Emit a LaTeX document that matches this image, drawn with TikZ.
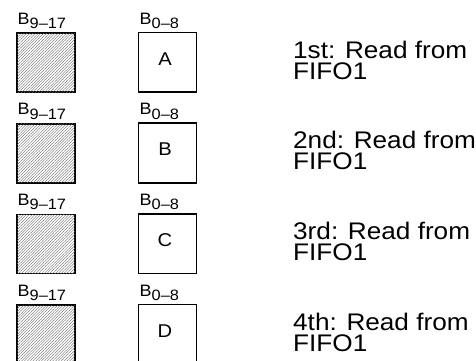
\documentclass[tikz,border=0pt]{standalone}
\usepackage{fontspec}
\setmainfont{Liberation Sans}
\usetikzlibrary{patterns.meta}
\newcommand{\hs}[1]{\scalebox{1.09}[1]{#1}}
\newcommand{\blabel}[1]{\hs{\fontsize{16.5}{18}\selectfont B\raisebox{-4.3pt}{\fontsize{15}{16}\selectfont #1}}}
\tikzset{
  hatchbox/.style={draw=black, line width=1.7pt, fill=white,
    postaction={pattern={Lines[angle=45,distance=2pt,line width=0.35pt]}, pattern color=black!60}},
  plainbox/.style={draw=black, line width=1.7pt, fill=white},
  lbl/.style={anchor=base west, inner sep=0pt},
  letter/.style={anchor=base, inner sep=0pt, font=\fontsize{18.5}{19}\selectfont},
  desc/.style={anchor=base west, inner sep=0pt, align=left, font=\fontsize{24}{21}\selectfont}
}
\begin{document}
\begin{tikzpicture}[x=1pt,y=-1pt]
\useasboundingbox (0,0) rectangle (476,360);
\clip (0,0) rectangle (476,360);
\foreach \i/\L/\T in {0/A/1st,1/B/2nd,2/C/3rd,3/D/4th}{
  \pgfmathsetmacro{\dy}{\i*90.7}
  \draw[hatchbox] (17,33+\dy) rectangle (75,92+\dy);
  \draw[plainbox] (138.5,32.5+\dy) rectangle (196.5,92+\dy);
  \node[lbl] (h\i) at (17.5,24+\dy) {\blabel{9–17}};
  \node[lbl] (l\i) at (139.5,24+\dy) {\blabel{0–8}};
  \node[letter] (c\i) at (165,65+\dy) {\hs{\L}};
  \node[desc] (t\i) at (293,79+\dy) {\hs{\T: Read from}\\\hs{FIFO1}};
}
\end{tikzpicture}
\end{document}
